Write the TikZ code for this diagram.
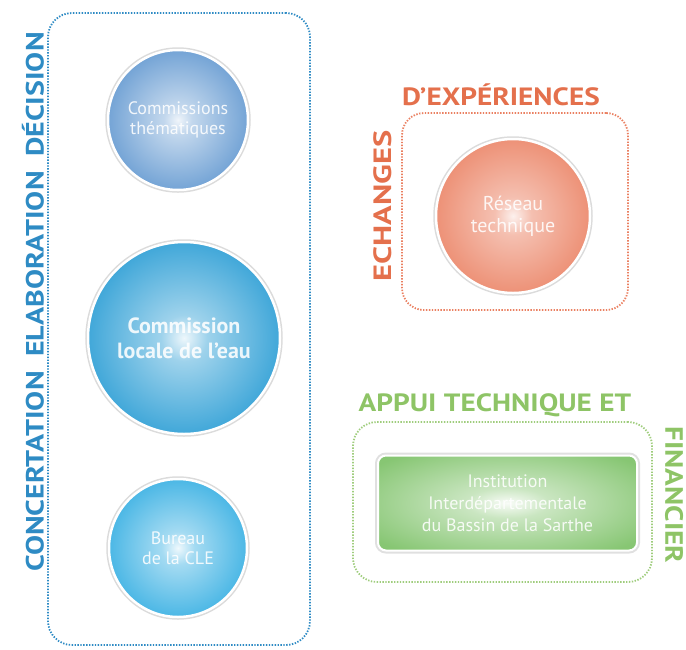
\documentclass[tikz,border=0pt]{standalone}
\usepackage{fontspec}
\setmainfont{PT Sans}
\definecolor{blueA}{RGB}{104,156,210}
\definecolor{blueB}{RGB}{40,156,212}
\definecolor{blueC}{RGB}{52,174,226}
\definecolor{orgA}{RGB}{232,114,80}
\definecolor{grnA}{RGB}{122,192,100}
\definecolor{blueT}{RGB}{46,139,196}
\definecolor{orgT}{RGB}{228,112,76}
\definecolor{grnT}{RGB}{142,196,102}
\pgfdeclareradialshading{shA}{\pgfpoint{0bp}{0bp}}{color(0bp)=(white!90!blueA); color(5bp)=(white!60!blueA); color(28bp)=(blueA); color(50bp)=(blueA!92!black)}
\pgfdeclareradialshading{shB}{\pgfpoint{0bp}{0bp}}{color(0bp)=(white!92!blueB); color(6bp)=(white!55!blueB); color(30bp)=(blueB); color(50bp)=(blueB!92!black)}
\pgfdeclareradialshading{shC}{\pgfpoint{0bp}{0bp}}{color(0bp)=(white!92!blueC); color(6bp)=(white!55!blueC); color(30bp)=(blueC); color(50bp)=(blueC!94!black)}
\pgfdeclareradialshading{shO}{\pgfpoint{0bp}{0bp}}{color(0bp)=(white!90!orgA); color(6bp)=(white!55!orgA); color(32bp)=(orgA!90!white); color(50bp)=(orgA)}
\pgfdeclareradialshading{shG}{\pgfpoint{0bp}{0bp}}{color(0bp)=(white!95!grnA); color(8bp)=(white!60!grnA); color(32bp)=(grnA!90!white); color(50bp)=(grnA)}
\newcommand{\hdwide}[2][1.17]{\scalebox{#1}[1]{#2}}
\tikzset{
  ball/.style={circle, draw=white, line width=2.5pt, text=white, align=center, inner sep=0pt,
    preaction={draw=black!14, line width=5.5pt}},
  frame/.style={line width=1.8pt, dash pattern=on 1.4pt off 1.5pt, rounded corners=22pt},
  heading/.style={font=\bfseries\fontsize{25}{27}\selectfont, inner sep=0pt},
  intext/.style={text opacity=0.88}
}
\begin{document}
\begin{tikzpicture}[x=1pt,y=-1pt]
\useasboundingbox (0,0) rectangle (686,649);
% left group
\node[frame, draw=blueT, minimum width=262pt, minimum height=632pt, rounded corners=24pt] (bbox) at (179,329) {};
\node[heading, text=blueT, rotate=90] (vtl) at (33,302) {\hdwide[1.2]{CONCERTATION\hspace{12pt}ELABORATION\hspace{12pt}DÉCISION}};
\node[ball, shading=shA, minimum size=140pt, intext, font=\fontsize{18}{20}\selectfont] (cth) at (178,120) {Commissions\\thématiques};
\node[ball, shading=shB, minimum size=192pt, intext, font=\bfseries\fontsize{22}{25}\selectfont] (cle) at (184,338) {Commission\\locale de l'eau};
\node[ball, shading=shC, minimum size=138pt, intext, font=\fontsize{18}{20}\selectfont] (bur) at (178,548) {Bureau\\de la CLE};
% orange group
\node[frame, draw=orgA!90!white, minimum width=226pt, minimum height=197pt] (obox) at (515,211.5) {};
\node[heading, text=orgT] (otl) at (501,95) {\hdwide{D'EXPÉRIENCES}};
\node[heading, text=orgT, rotate=90] (ovt) at (383,206) {\hdwide[1.3]{ECHANGES}};
\node[ball, shading=shO, minimum size=154pt, intext, font=\fontsize{20}{22}\selectfont] (res) at (513,216) {Réseau\\technique};
% green group
\node[frame, draw=grnT!85!white, minimum width=299pt, minimum height=160pt, rounded corners=24pt] (gbox) at (502.5,502) {};
\node[heading, text=grnT] (gtl) at (495,405) {\hdwide{APPUI TECHNIQUE ET}};
\node[heading, text=grnT, rotate=-90] (gvt) at (674,495) {\hdwide{FINANCIER}};
\node[rounded corners=8pt, shading=shG, draw=white, line width=2pt, preaction={draw=black!12, line width=6pt},
  minimum width=259pt, minimum height=95pt, text=white, align=center, intext, font=\fontsize{18}{22}\selectfont] (iibs) at (507.5,503)
  {Institution\\Interdépartementale\\du Bassin de la Sarthe};
\end{tikzpicture}
\end{document}
